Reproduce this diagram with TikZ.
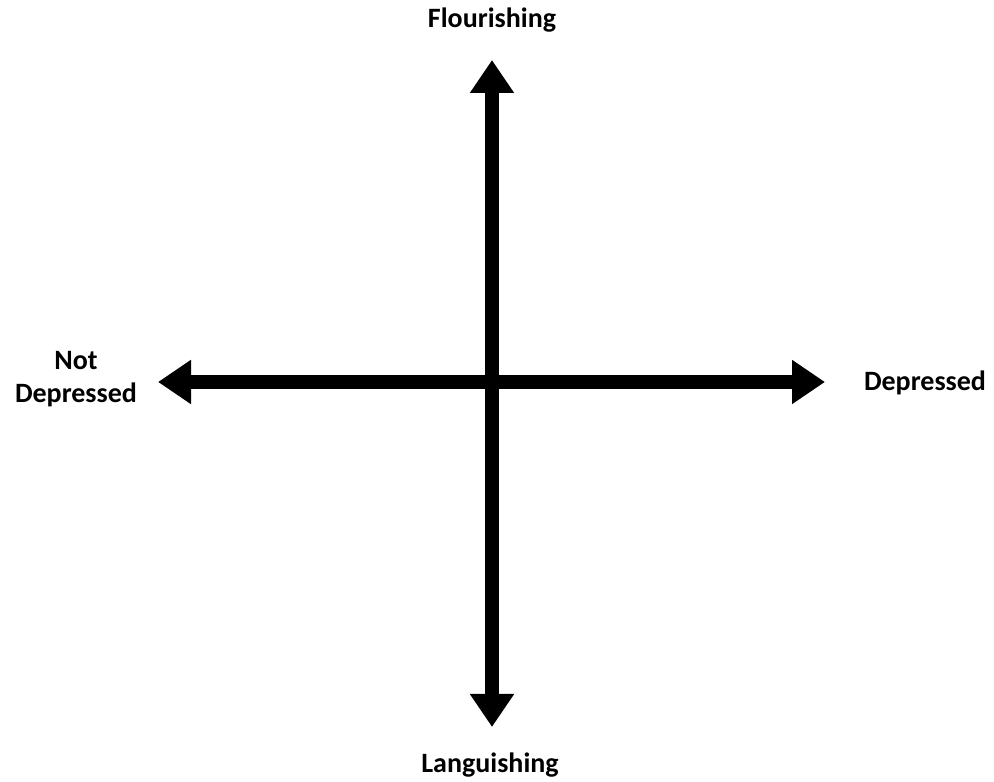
\documentclass[tikz,border=0pt]{standalone}
\usepackage{fontspec}
\setmainfont{Carlito}
\usetikzlibrary{arrows.meta}
\begin{document}
\begin{tikzpicture}[x=1pt,y=1pt,
  axis/.style={line width=14pt,-{Triangle[length=33pt,width=42pt]}},
  lbl/.style={font=\bfseries\fontsize{28}{33}\selectfont,align=center,inner sep=0pt,anchor=base}]
\useasboundingbox (0,0) rectangle (994,782);
\coordinate (c) at (492,400);
\coordinate (top) at (492,722);
\coordinate (bot) at (492,55);
\coordinate (lft) at (158,400);
\coordinate (rgt) at (825,400);
\draw[axis] (c) -- (top);
\draw[axis] (c) -- (bot);
\draw[axis] (c) -- (lft);
\draw[axis] (c) -- (rgt);
\node[lbl] (fl) at (492,754) {Flourishing};
\node[lbl] (la) at (490,9) {Languishing};
\node[lbl] (nd) at (76,379) {Not\\Depressed};
\node[lbl] (de) at (925,391) {Depressed};
\end{tikzpicture}
\end{document}
